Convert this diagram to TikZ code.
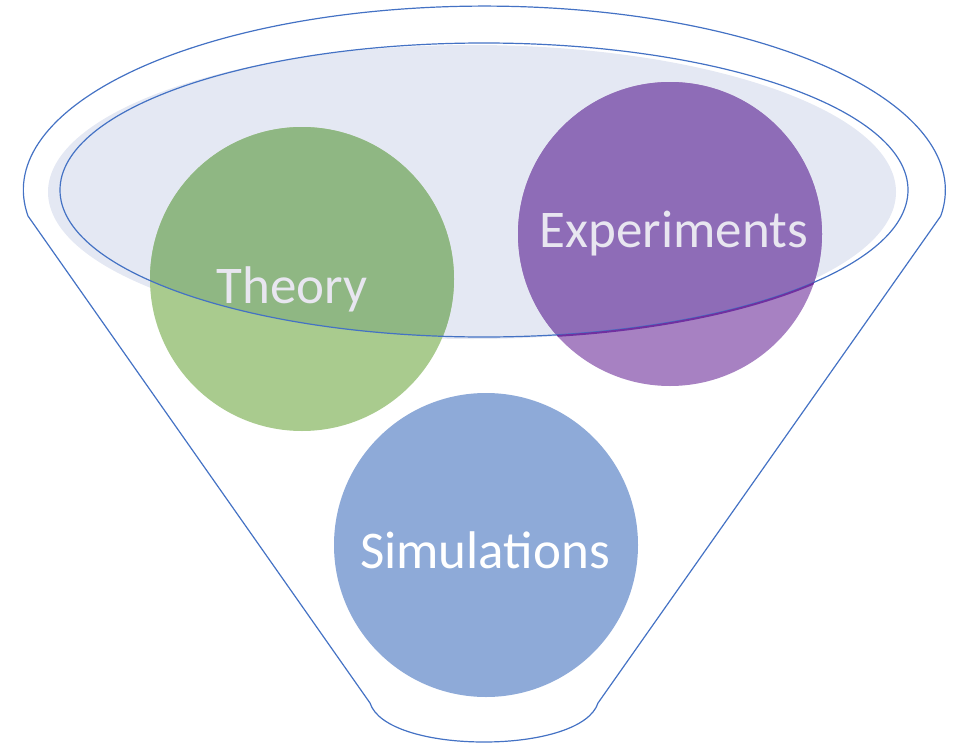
\documentclass[tikz,border=0pt]{standalone}
\usepackage{fontspec}
\setmainfont{Carlito}
\definecolor{rimblue}{HTML}{4472C4}
\definecolor{bowlfill}{HTML}{E4E8F3}
\definecolor{thlight}{HTML}{A9CB8E}
\definecolor{thdark}{HTML}{8FB783}
\definecolor{exlight}{HTML}{A781C2}
\definecolor{exdark}{HTML}{8E6CB7}
\definecolor{exline}{HTML}{7030A0}
\definecolor{simfill}{HTML}{8EAAD8}
\definecolor{labeltxt}{HTML}{E8E6F0}
\tikzset{
  rim/.style={draw=rimblue, line width=1.2pt},
  label/.style={font=\fontsize{53}{60}\selectfont, anchor=base, inner sep=0pt},
}
\begin{document}
\begin{tikzpicture}[x=1pt,y=-1pt]
\useasboundingbox (0,0) rectangle (961,744);
% bowl fill
\fill[bowlfill] (472,192) ellipse [x radius=424, y radius=147];
% theory circle
\fill[thlight] (302,279) circle [radius=152];
\begin{scope}
  \clip (484,190) ellipse [x radius=424, y radius=147];
  \fill[thdark] (302,279) circle [radius=152];
\end{scope}
% experiments circle
\fill[exlight] (670,234) circle [radius=152];
\begin{scope}
  \clip (484,190) ellipse [x radius=424, y radius=147];
  \fill[exdark] (670,234) circle [radius=152];
\end{scope}
% rim ellipse
\draw[rim] (484,190) ellipse [x radius=424, y radius=147];
\begin{scope}
  \clip (670,234) circle [radius=152];
  \draw[exline, line width=2pt] (484,191) ellipse [x radius=424, y radius=147];
\end{scope}
% funnel outline
\coordinate (lk) at (28,216);
\coordinate (rk) at (940,216);
\coordinate (lb) at (370,703);
\coordinate (rb) at (598,703);
\coordinate (bm) at (484,742);
\draw[rim] (lk) arc[start angle=171.9, end angle=368.1, x radius=461, y radius=184]
  -- (rb) .. controls (590,728) and (540,742) .. (bm)
  .. controls (428,742) and (378,728) .. (lb) -- cycle;
% simulations circle
\fill[simfill] (486,545) circle [radius=152];
% labels
\node[label, text=labeltxt] (theory) at (292,303) {Theory};
\node[label, text=labeltxt] (experiments) at (674,247) {Experiments};
\node[label, text=white] (simulations) at (485,568) {Simulations};
\end{tikzpicture}
\end{document}
